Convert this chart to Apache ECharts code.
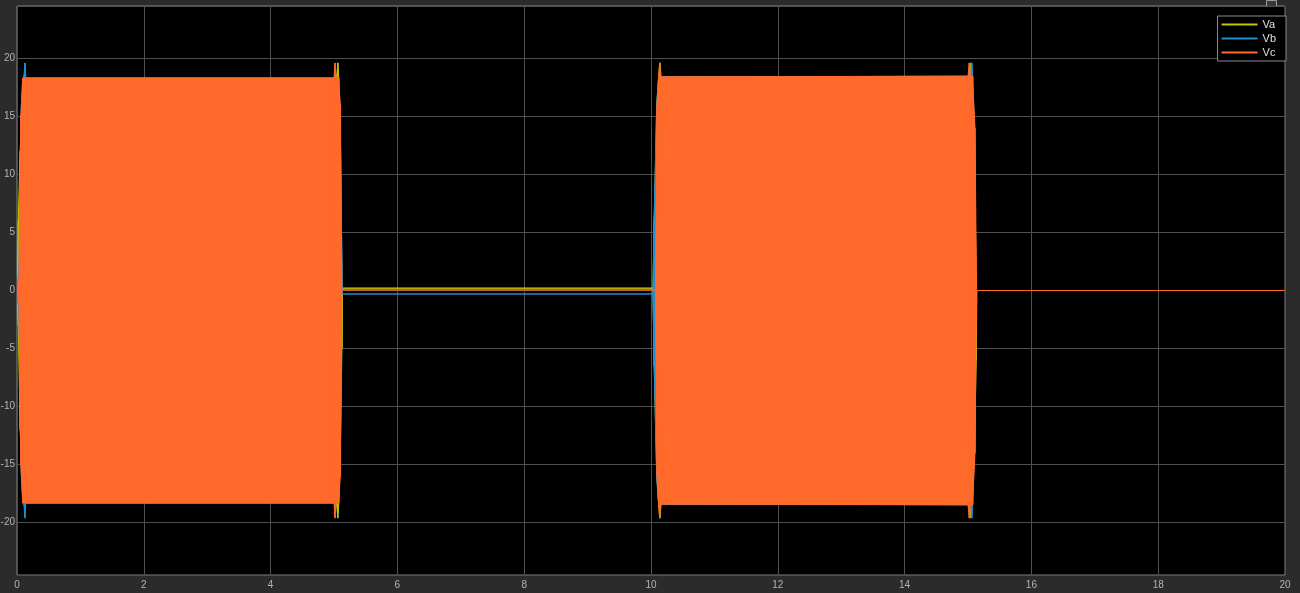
<!DOCTYPE html>
<html><head><meta charset="utf-8">
<script src="https://cdn.jsdelivr.net/npm/echarts@6/dist/echarts.min.js"></script>
<style>html,body{margin:0;padding:0;background:#2b2b2b;} #chart{width:1300px;height:593px;}</style>
</head><body><div id="chart"></div>
<script>
// Series names
const seriesNames = ['Va', 'Vb', 'Vc'];

// Signal envelopes: [time, lower envelope, upper envelope]
const vaEnv = [
  [0, 0, 0], [0.02, -3, 6], [0.05, -12, 12], [0.09, -18.3, 18.3],
  [5.04, -18.3, 18.3], [5.06, -19.6, 19.6], [5.075, -18.3, 18.3], [5.1, -14, 14],
  [5.125, -5, 0.2], [5.135, 0.2, 0.2], [10.03, 0.2, 0.2], [10.05, -6.5, 6],
  [10.09, -16, 16], [10.12, -18.4, 18.4], [10.14, -19.6, 19.6], [10.16, -18.4, 18.4],
  [15.03, -18.45, 18.45], [15.05, -19.6, 19.6], [15.065, -18.45, 18.45], [15.1, -14, 14],
  [15.13, -6, 0], [15.14, 0, 0], [20, 0, 0]
];
const vbEnv = [
  [0, 0, 0], [0.03, -2, 2], [0.07, -16, 16], [0.11, -18.5, 18.5],
  [0.125, -19.6, 19.6], [0.14, -18.3, 18.3], [5.07, -18.3, 18.3], [5.1, -14, 14],
  [5.12, 0, 4.7], [5.135, -0.3, -0.3], [10.03, -0.3, -0.3], [10.05, -6.5, 6.5],
  [10.09, -16, 16], [10.12, -18.4, 18.4], [15.04, -18.45, 18.45], [15.06, -19.6, 19.6],
  [15.075, -18.45, 18.45], [15.1, -14, 14], [15.12, 0, 0], [20, 0, 0]
];
const vcEnv = [
  [0, 0, 0], [0.03, -1, 1], [0.06, -15, 15], [0.09, -18.3, 18.3],
  [5.0, -18.3, 18.3], [5.015, -19.6, 19.6], [5.03, -18.3, 18.3], [5.07, -18.3, 18.3],
  [5.1, -16, 16], [5.125, 0.05, 0.05], [10.07, 0.05, 0.05], [10.095, -16, 16],
  [10.12, -18.4, 18.4], [10.135, -19.6, 19.6], [10.15, -18.4, 18.4], [15.0, -18.45, 18.45],
  [15.02, -19.6, 19.6], [15.04, -18.45, 18.45], [15.07, -18.45, 18.45], [15.11, -14, 14],
  [15.135, 0, 0], [20, 0, 0]
];

const envs = [vaEnv, vbEnv, vcEnv];
const colors = ['#c8c400', '#1f8fd8', '#ff6a2b'];

function bandRender(data) {
  return function (params, api) {
    const i = params.dataIndex;
    if (i >= data.length - 1) return;
    const a = data[i], b = data[i + 1];
    const col = api.visual('color');
    return {
      type: 'polygon',
      shape: { points: [api.coord([a[0], a[2]]), api.coord([b[0], b[2]]), api.coord([b[0], b[1]]), api.coord([a[0], a[1]])] },
      style: { fill: col, stroke: col, lineWidth: 1 }
    };
  };
}

const chart = echarts.init(document.getElementById('chart'));
const labelColor = '#b4b4b4';
const gridColor = '#505050';
chart.setOption({
  backgroundColor: '#2b2b2b',
  animation: false,
  grid: { left: 17, right: 15, top: 6, bottom: 18, show: true, backgroundColor: '#000', borderColor: '#858585', borderWidth: 1, containLabel: false, outerBoundsMode: 'none' },
  xAxis: {
    type: 'value', min: 0, max: 20, interval: 2,
    axisLine: { show: false }, axisTick: { show: false },
    axisLabel: { color: labelColor, fontSize: 10, margin: 5, fontFamily: 'Liberation Sans' },
    splitLine: { show: true, lineStyle: { color: gridColor, width: 1 } }
  },
  yAxis: {
    type: 'value', min: -24.5, max: 24.5, splitNumber: 10,
    axisLine: { show: false }, axisTick: { show: false },
    axisLabel: { color: labelColor, fontSize: 10, margin: 2, showMinLabel: false, showMaxLabel: false, fontFamily: 'Liberation Sans' },
    splitLine: { show: true, lineStyle: { color: gridColor, width: 1 } }
  },
  legend: {
    data: seriesNames, orient: 'vertical', right: 14, top: 16,
    icon: 'rect', itemWidth: 36, itemHeight: 2, itemGap: 1,
    padding: [2, 10, 2, 4],
    backgroundColor: '#000', borderColor: '#8a8a8a', borderWidth: 1,
    textStyle: { color: '#e0e0e0', fontSize: 11, lineHeight: 13, fontFamily: 'Liberation Sans' }
  },
  graphic: [{
    type: 'rect', left: 1266, top: 0, shape: { width: 10, height: 6 },
    style: { fill: '#3a3a3a', stroke: '#9a9a9a', lineWidth: 1 }
  }],
  series: seriesNames.map((name, k) => ({
    name: name, type: 'custom', clip: true,
    itemStyle: { color: colors[k] },
    encode: { x: 0, y: [1, 2] },
    renderItem: bandRender(envs[k]),
    data: envs[k]
  }))
});
</script></body></html>
